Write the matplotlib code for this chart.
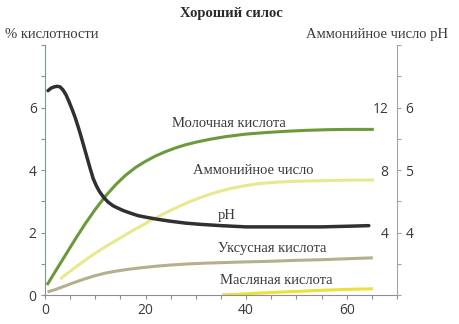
import matplotlib
matplotlib.use("Agg")
import matplotlib.pyplot as plt
from matplotlib.ticker import MultipleLocator, FixedLocator

# Days of storage and measured values
days_lactic = [0.4, 2, 4, 6, 8, 10, 12, 14, 16, 18, 20, 22, 24, 26, 28, 30, 33, 36, 40, 44,
               48, 52, 56, 60, 65.4]
lactic = [0.32, 0.74, 1.26, 1.78, 2.28, 2.74, 3.16, 3.52, 3.83, 4.08, 4.28, 4.45, 4.59, 4.71,
          4.81, 4.89, 4.99, 5.07, 5.15, 5.2, 5.24, 5.27, 5.29, 5.3, 5.3]

days_acetic = [0.5, 2, 4, 6, 8, 10, 12, 14, 16, 19, 22, 25, 28, 32, 36, 40, 45, 50, 55, 60, 65.2]
acetic = [0.1, 0.17, 0.29, 0.41, 0.52, 0.62, 0.7, 0.76, 0.81, 0.87, 0.92, 0.96, 0.99, 1.02,
          1.04, 1.06, 1.08, 1.11, 1.13, 1.16, 1.19]

days_butyric = [35.2, 40, 45, 50, 55, 60, 65.2]
butyric = [0.0, 0.04, 0.08, 0.115, 0.15, 0.18, 0.2]

days_ammonia = [3, 5, 7, 9, 11, 13, 15, 17, 19, 21, 23, 25, 27, 29, 31, 33, 35, 37, 39, 41,
                43, 46, 50, 55, 60, 65.4]
ammonia = [1.02, 1.52, 2.0, 2.46, 2.88, 3.28, 3.66, 4.04, 4.4, 4.76, 5.1, 5.42, 5.72, 6.0,
           6.25, 6.47, 6.66, 6.82, 6.95, 7.06, 7.14, 7.22, 7.28, 7.32, 7.35, 7.36]

days_ph = [0.6, 1.2, 1.8, 2.4, 3.0, 3.6, 4.2, 4.8, 5.4, 6.0, 6.6, 7.2, 7.8, 8.4, 9.0, 9.6,
           10.2, 10.8, 11.6, 12.5, 13.5, 14.5, 15.6, 17, 18.5, 20.4, 22.5, 25, 28, 31, 35,
           40, 45, 50, 55, 60, 64.4]
ph = [6.27, 6.31, 6.33, 6.34, 6.33, 6.28, 6.20, 6.09, 5.97, 5.84, 5.69, 5.53, 5.36, 5.19,
      5.02, 4.86, 4.75, 4.66, 4.57, 4.49, 4.43, 4.39, 4.35, 4.31, 4.27, 4.24, 4.21, 4.18,
      4.15, 4.13, 4.11, 4.09, 4.09, 4.09, 4.09, 4.10, 4.11]

acid_ticks = [0, 2, 4, 6]
ammonia_ticks = [4, 8, 12]
ph_ticks = [4, 5, 6]
x_ticks = [0, 20, 40, 60]

SERIF = ["Liberation Serif", "DejaVu Serif"]
SANS = ["Open Sans", "DejaVu Sans"]
TXT = "#3a3a3a"

fig = plt.figure(figsize=(4.6, 3.24), dpi=100)
ax = fig.add_axes([0.0978, 0.0895, 0.7652, 0.7715])
ax_nh = ax.twinx()
ax_ph = ax.twinx()

ax.set_xlim(0, 70)
ax.set_ylim(0, 8)
ax_nh.set_ylim(0, 16)
ax_ph.set_ylim(3, 7)

c_lactic = "#6b9a3a"
c_ammonia = "#e9e88e"
c_ph = "#2f3033"
c_acetic = "#b4b08e"
c_butyric = "#e9e23a"
lw = 2.2

ax.plot(days_acetic, acetic, color=c_acetic, lw=lw, solid_capstyle="butt", solid_joinstyle="round")
ax.plot(days_butyric, butyric, color=c_butyric, lw=lw, solid_capstyle="butt", solid_joinstyle="round")
ax.plot(days_lactic, lactic, color=c_lactic, lw=lw, solid_capstyle="butt", solid_joinstyle="round")
ax_nh.plot(days_ammonia, ammonia, color=c_ammonia, lw=lw, solid_capstyle="butt", solid_joinstyle="round")
ax_ph.plot(days_ph, ph, color=c_ph, lw=lw + 0.3, solid_capstyle="round", solid_joinstyle="round")

# Spines
for a in (ax, ax_nh, ax_ph):
    for s in a.spines.values():
        s.set_visible(False)
ax.spines["left"].set_visible(True)
ax.spines["left"].set_color("#7d988a")
ax.spines["bottom"].set_visible(True)
ax.spines["bottom"].set_color("#8e8c98")
ax_ph.spines["right"].set_visible(True)
ax_ph.spines["right"].set_color("#a3a2aa")

# Main axes ticks
ax.xaxis.set_major_locator(FixedLocator(x_ticks))
ax.xaxis.set_minor_locator(MultipleLocator(5))
ax.yaxis.set_major_locator(FixedLocator(acid_ticks))
ax.yaxis.set_minor_locator(MultipleLocator(1))
ax.tick_params(axis="both", which="both", direction="out", length=3, width=0.8,
               colors="#8e8c98", labelcolor=TXT, labelsize=10, pad=3)
ax.tick_params(axis="y", which="both", colors="#7d988a", labelcolor=TXT)
for lab in ax.get_xticklabels() + ax.get_yticklabels():
    lab.set_family(SANS)

# Ammonia number labels, inside the right spine
ax_nh.spines["left"].set_position(("axes", 1.0))
ax_nh.yaxis.set_ticks_position("left")
ax_nh.yaxis.set_major_locator(FixedLocator(ammonia_ticks))
ax_nh.tick_params(axis="y", length=0, labelsize=10, labelcolor=TXT, pad=6)
for lab in ax_nh.get_yticklabels():
    lab.set_family(SANS)

# pH ticks on the right
ax_ph.yaxis.set_major_locator(FixedLocator(ph_ticks))
ax_ph.yaxis.set_minor_locator(MultipleLocator(0.5))
ax_ph.tick_params(axis="y", which="both", direction="out", length=3, width=0.8,
                  colors="#a3a2aa", labelcolor=TXT, labelsize=10, pad=3)
for lab in ax_ph.get_yticklabels():
    lab.set_family(SANS)

# Curve labels
label_kw = dict(family=SERIF, fontsize=10.5, color=TXT, va="center", ha="left")
ax.text(25.2, 5.5, "Молочная кислота", **label_kw)
ax.text(29.4, 4.0, "Аммонийное число", **label_kw)
ax.text(34.4, 2.56, "pH", **label_kw)
ax.text(34.4, 1.5, "Уксусная кислота", **label_kw)
ax.text(34.8, 0.48, "Масляная кислота", **label_kw)

# Titles
fig.text(0.502, 0.957, "Хороший силос", family=SERIF, fontsize=10.5, fontweight="bold",
         color="#2a2a2a", ha="center", va="center")
fig.text(0.011, 0.892, "% кислотности", family=SERIF, fontsize=10.5, color=TXT,
         ha="left", va="center")
fig.text(0.975, 0.892, "Аммонийное число pH", family=SERIF, fontsize=10.5, color=TXT,
         ha="right", va="center")

fig.savefig("out.png", dpi=100)
